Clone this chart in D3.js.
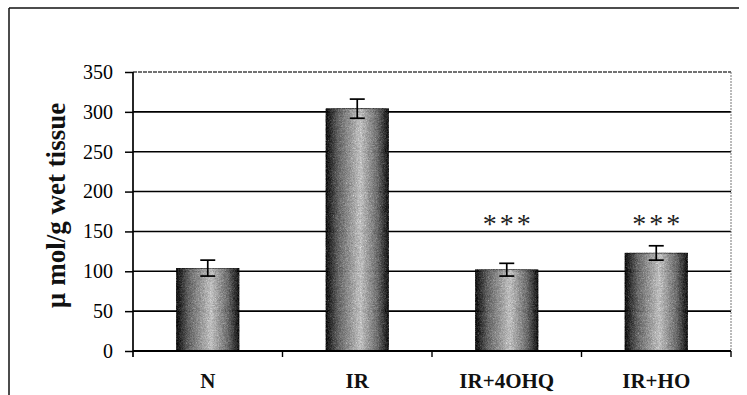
<!DOCTYPE html>
<html>
<head>
<meta charset="utf-8">
<script src="https://cdn.jsdelivr.net/npm/d3@7"></script>
<style>
  html, body { margin: 0; padding: 0; background: #fff; }
  svg { display: block; }
</style>
</head>
<body>
<svg id="chart" width="747" height="395"></svg>
<script>
const categories = ["N", "IR", "IR+4OHQ", "IR+HO"];
const values = [104, 304, 102, 123];
const errors = [10, 12, 8, 9];
const significance = ["", "", "***", "***"];
const yTicks = [0, 50, 100, 150, 200, 250, 300, 350];
const yLabel = "\u00B5 mol/g wet tissue";

const svg = d3.select("#chart");
const W = 747, H = 395;
const margin = { left: 133, right: 16, top: 72, bottom: 44 };
const plotW = W - margin.left - margin.right;
const plotH = H - margin.top - margin.bottom;
const serif = "Liberation Serif, Times New Roman, serif";

const defs = svg.append("defs");
const grad = defs.append("linearGradient").attr("id", "barGrad")
  .attr("x1", "0%").attr("x2", "100%").attr("y1", "0%").attr("y2", "0%");
[[0, "#333"], [0.2, "#8a8a8a"], [0.55, "#e4e4e4"], [0.82, "#909090"], [1, "#383838"]]
  .forEach(([o, c]) => grad.append("stop").attr("offset", o).attr("stop-color", c));

const filt = defs.append("filter").attr("id", "grain").attr("x", 0).attr("y", 0).attr("width", 1).attr("height", 1)
  .attr("color-interpolation-filters", "sRGB");
filt.append("feTurbulence").attr("type", "fractalNoise").attr("baseFrequency", 1.6).attr("numOctaves", 2).attr("seed", 3).attr("result", "n");
filt.append("feColorMatrix").attr("in", "n").attr("type", "saturate").attr("values", 0).attr("result", "g");
filt.append("feComposite").attr("in", "SourceGraphic").attr("in2", "g").attr("operator", "arithmetic")
  .attr("k1", 0).attr("k2", 1).attr("k3", 0.7).attr("k4", -0.35).attr("result", "c");
filt.append("feComposite").attr("in", "c").attr("in2", "SourceAlpha").attr("operator", "in");

const x = d3.scaleBand().domain(categories).range([margin.left, margin.left + plotW]).paddingInner(0.58).paddingOuter(0.29);
const xOuter = d3.scaleBand().domain(categories).range([margin.left, margin.left + plotW]);
const y = d3.scaleLinear().domain([0, 350]).range([margin.top + plotH, margin.top]);

// outer frame (top and left)
svg.append("line").attr("x1", 9).attr("x2", 739).attr("y1", 8).attr("y2", 8)
  .attr("stroke", "#111").attr("stroke-width", 1.5);
svg.append("line").attr("x1", 9).attr("x2", 9).attr("y1", 8).attr("y2", H)
  .attr("stroke", "#111").attr("stroke-width", 1.5);

// gridlines
svg.append("g").selectAll("line").data(yTicks.filter(t => t > 0 && t < 350)).join("line")
  .attr("x1", margin.left).attr("x2", margin.left + plotW)
  .attr("y1", d => y(d)).attr("y2", d => y(d))
  .attr("stroke", "#000").attr("stroke-width", 1.6);

// plot area border top/right (light dotted)
svg.append("line").attr("x1", margin.left).attr("x2", margin.left + plotW)
  .attr("y1", y(350)).attr("y2", y(350)).attr("stroke", "#444").attr("stroke-width", 1.3).attr("stroke-dasharray", "4,1");
svg.append("line").attr("x1", margin.left + plotW).attr("x2", margin.left + plotW)
  .attr("y1", y(350)).attr("y2", y(0)).attr("stroke", "#777").attr("stroke-width", 1).attr("stroke-dasharray", "2,1");

// bars
svg.append("g").selectAll("rect").data(categories).join("rect")
  .attr("x", d => x(d)).attr("width", x.bandwidth())
  .attr("y", (d, i) => y(values[i])).attr("height", (d, i) => y(0) - y(values[i]))
  .attr("fill", "url(#barGrad)").attr("filter", "url(#grain)")
  .attr("stroke", "#222").attr("stroke-width", 0.8);

// error bars
const eb = svg.append("g").attr("stroke", "#000").attr("stroke-width", 1.7);
categories.forEach((c, i) => {
  const cx = x(c) + x.bandwidth() / 2;
  eb.append("line").attr("x1", cx).attr("x2", cx).attr("y1", y(values[i] + errors[i])).attr("y2", y(values[i] - errors[i]));
  [values[i] + errors[i], values[i] - errors[i]].forEach(v =>
    eb.append("line").attr("x1", cx - 7.5).attr("x2", cx + 7.5).attr("y1", y(v)).attr("y2", y(v)));
});

// significance stars
svg.append("g").selectAll("text").data(categories).join("text")
  .attr("x", d => x(d) + x.bandwidth() / 2 + 1.5).attr("y", 233)
  .attr("text-anchor", "middle")
  .attr("font-family", serif)
  .attr("font-size", 28).attr("letter-spacing", 3)
  .attr("fill", "#222")
  .text((d, i) => significance[i]);

// y axis
const yAxis = d3.axisLeft(y).tickValues(yTicks).tickSize(8).tickPadding(12);
const gy = svg.append("g").attr("transform", `translate(${margin.left},0)`).call(yAxis);
gy.select(".domain").remove();
gy.selectAll(".tick line").attr("stroke", "#000").attr("stroke-width", 1.5);
gy.selectAll(".tick text").attr("font-family", serif)
  .attr("font-size", 20).attr("fill", "#000");
svg.append("line").attr("x1", margin.left).attr("x2", margin.left)
  .attr("y1", y(350)).attr("y2", y(0) + 6).attr("stroke", "#000").attr("stroke-width", 1.7);

// x axis
svg.append("line").attr("x1", margin.left).attr("x2", margin.left + plotW)
  .attr("y1", y(0)).attr("y2", y(0)).attr("stroke", "#000").attr("stroke-width", 1.9);
const bounds = categories.map(c => xOuter(c)).concat([margin.left + plotW]);
svg.append("g").selectAll("line").data(bounds.slice(1)).join("line")
  .attr("x1", d => d).attr("x2", d => d).attr("y1", y(0)).attr("y2", y(0) + 6)
  .attr("stroke", "#000").attr("stroke-width", 1.4);
svg.append("g").selectAll("text").data(categories).join("text")
  .attr("x", d => xOuter(d) + xOuter.bandwidth() / 2).attr("y", 388)
  .attr("text-anchor", "middle")
  .attr("font-family", serif)
  .attr("font-weight", "bold").attr("font-size", 21).attr("fill", "#111")
  .text(d => d);

// y label
svg.append("text")
  .attr("transform", `translate(65,${(y(0) + y(350)) / 2 - 6}) rotate(-90)`)
  .attr("text-anchor", "middle")
  .attr("font-family", serif)
  .attr("font-weight", "bold").attr("font-size", 27).attr("fill", "#111")
  .text(yLabel);
</script>
</body>
</html>
